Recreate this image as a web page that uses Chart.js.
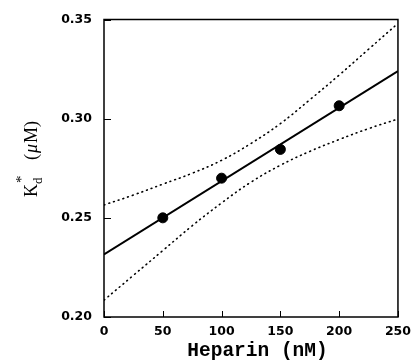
<!DOCTYPE html>
<html>
<head>
<meta charset="utf-8">
<script src="https://cdn.jsdelivr.net/npm/chart.js@4"></script>
<style>
  body { margin: 0; background: #fff; }
  canvas { display: block; }
</style>
</head>
<body>
<canvas id="kdChart" width="418" height="364"></canvas>
<script>
// measured points
const heparin = [50, 100, 150, 200];
const kdStar = [0.250, 0.270, 0.2845, 0.3065];

// fitted line
const fitX = [0, 250];
const fitY = [0.2315, 0.324];

// confidence band (dotted)
const bandX = [0, 25, 50, 75, 100, 125, 150, 175, 200, 225, 250];
const bandUpper = [0.2565, 0.2615, 0.267, 0.2725, 0.279, 0.2875, 0.2975, 0.3095, 0.322, 0.335, 0.348];
const bandLower = [0.2085, 0.221, 0.2335, 0.246, 0.2575, 0.268, 0.2765, 0.2835, 0.2895, 0.295, 0.2998];

const xTicks = [0, 50, 100, 150, 200, 250];
const yTicks = [0.20, 0.25, 0.30, 0.35];

function pairs(xs, ys) {
    return xs.map((x, i) => ({ x: x, y: ys[i] }));
}

// frame, inward ticks and axis titles
const framePlugin = {
    id: 'frame',
    afterDraw(chart) {
        const ctx = chart.ctx;
        const area = chart.chartArea;
        const xs = chart.scales.x;
        const ys = chart.scales.y;
        ctx.save();
        ctx.strokeStyle = '#000';
        ctx.lineWidth = 1.5;
        ctx.strokeRect(area.left, area.top, area.right - area.left, area.bottom - area.top);
        ctx.lineWidth = 1;
        ctx.beginPath();
        xTicks.forEach(v => {
            const px = Math.round(xs.getPixelForValue(v)) + 0.5;
            ctx.moveTo(px, area.bottom);
            ctx.lineTo(px, area.bottom - 6);
        });
        yTicks.forEach(v => {
            const py = Math.round(ys.getPixelForValue(v)) + 0.5;
            ctx.moveTo(area.left, py);
            ctx.lineTo(area.left + 7, py);
        });
        ctx.stroke();

        // x title
        ctx.fillStyle = '#000';
        ctx.font = 'bold 19.5px "Liberation Mono"';
        ctx.textAlign = 'center';
        ctx.textBaseline = 'alphabetic';
        ctx.fillText('Heparin (nM)', 257.5, 356);

        // y title: K_d^* (μM)
        ctx.translate(37, 197);
        ctx.rotate(-Math.PI / 2);
        ctx.textAlign = 'left';
        ctx.font = '18px "Liberation Serif"';
        ctx.fillText('K', 0, 0);
        let w = ctx.measureText('K').width;
        ctx.font = '13px "Liberation Serif"';
        ctx.fillText('d', w, 5);
        ctx.font = '15px "Liberation Serif"';
        ctx.fillText('*', w + 1, -11);
        let x = w + 24;
        ctx.font = '18px "Liberation Serif"';
        ctx.fillText('(', x, 0);
        x += ctx.measureText('(').width + 1;
        ctx.font = 'italic 18px "Liberation Serif"';
        ctx.fillText('\u03bc', x, 0);
        x += ctx.measureText('\u03bc').width + 1;
        ctx.font = '18px "Liberation Serif"';
        ctx.fillText('M)', x, 0);
        ctx.restore();
    }
};

const ctx = document.getElementById('kdChart').getContext('2d');
new Chart(ctx, {
    type: 'scatter',
    data: {
        datasets: [
            {
                label: 'upper',
                data: pairs(bandX, bandUpper),
                showLine: true,
                borderColor: '#000',
                borderWidth: 1.6,
                borderDash: [0.8, 4.2],
                borderCapStyle: 'round',
                pointRadius: 0,
                tension: 0.4
            },
            {
                label: 'lower',
                data: pairs(bandX, bandLower),
                showLine: true,
                borderColor: '#000',
                borderWidth: 1.6,
                borderDash: [0.8, 4.2],
                borderCapStyle: 'round',
                pointRadius: 0,
                tension: 0.4
            },
            {
                label: 'fit',
                data: pairs(fitX, fitY),
                showLine: true,
                borderColor: '#000',
                borderWidth: 2,
                pointRadius: 0
            },
            {
                label: 'Kd*',
                data: pairs(heparin, kdStar),
                showLine: false,
                backgroundColor: '#000',
                borderColor: '#000',
                pointRadius: 5,
                pointHoverRadius: 5
            }
        ]
    },
    options: {
        responsive: false,
        animation: false,
        layout: { padding: { left: 0, top: 17, right: 14, bottom: 0 } },
        plugins: {
            legend: { display: false },
            tooltip: { enabled: false }
        },
        scales: {
            x: {
                type: 'linear',
                min: 0,
                max: 250,
                afterFit: scale => { scale.height = 47; },
                afterBuildTicks: scale => { scale.ticks = xTicks.map(v => ({ value: v })); },
                grid: { display: false, drawTicks: false },
                border: { display: false },
                ticks: {
                    padding: 7,
                    color: '#000',
                    font: { family: 'DejaVu Sans', weight: 'bold', size: 12.5 },
                    maxRotation: 0
                }
            },
            y: {
                type: 'linear',
                min: 0.2,
                max: 0.35,
                afterFit: scale => { scale.width = 104; },
                afterBuildTicks: scale => { scale.ticks = yTicks.map(v => ({ value: v })); },
                grid: { display: false, drawTicks: false },
                border: { display: false },
                ticks: {
                    padding: 12,
                    color: '#000',
                    font: { family: 'DejaVu Sans', weight: 'bold', size: 12.5 },
                    callback: v => v.toFixed(2)
                }
            }
        }
    },
    plugins: [framePlugin]
});
</script>
</body>
</html>
